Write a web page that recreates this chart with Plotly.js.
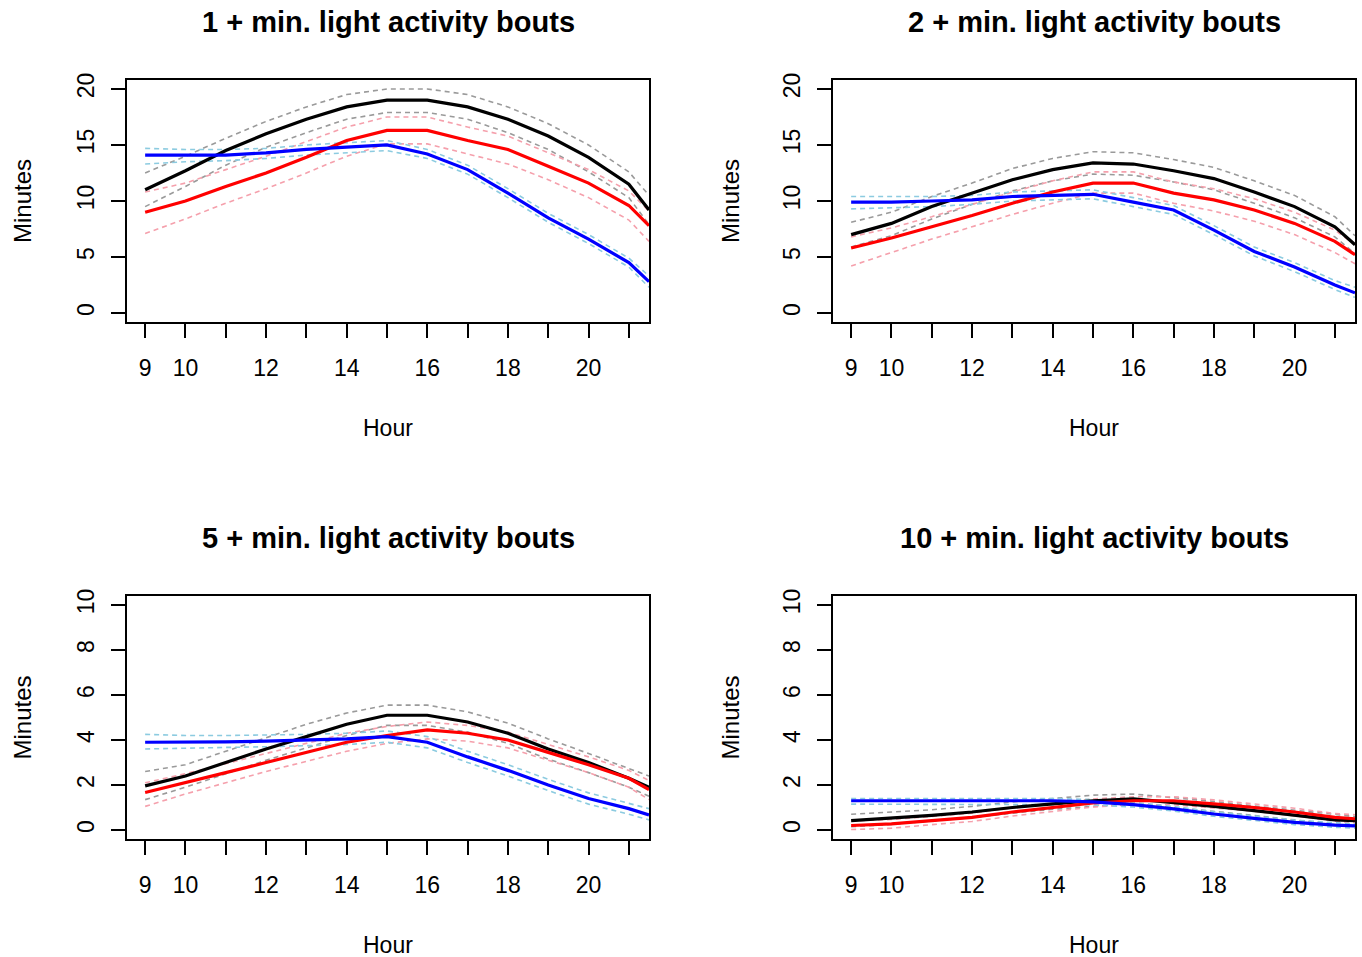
<!DOCTYPE html>
<html>
<head>
<meta charset="utf-8">
<script src="https://cdn.plot.ly/plotly-3.0.1.min.js"></script>
<style>html,body{margin:0;padding:0;background:#fff;}#chart{width:1362px;height:957px;}</style>
</head>
<body>
<div id="chart"></div>
<script>
// ---- data ----
const hours = [9,10,11,12,13,14,15,16,17,18,19,20,21,21.5];
const xTickVals = [9,10,11,12,13,14,15,16,17,18,19,20,21];
const xTickText = ["9","10","","12","","14","","16","","18","","20",""];
const titles = ["1 + min. light activity bouts","2 + min. light activity bouts","5 + min. light activity bouts","10 + min. light activity bouts"];
const yTicksTop = [0,5,10,15,20];
const yTicksBottom = [0,2,4,6,8,10];

// Panel 1: 1+ min
const blk1   = [11.0,12.7,14.5,16.0,17.3,18.4,19.0,19.0,18.4,17.3,15.8,13.9,11.5,9.2];
const blk1Up = [12.5,14.0,15.6,17.1,18.4,19.5,20.0,20.0,19.5,18.4,16.9,15.0,12.6,10.5];
const blk1Lo = [9.5,11.3,13.2,14.8,16.1,17.3,17.9,17.9,17.3,16.1,14.6,12.6,10.3,7.9];
const red1   = [9.0,10.0,11.3,12.5,13.9,15.4,16.3,16.3,15.4,14.6,13.1,11.6,9.6,7.8];
const red1Up = [10.8,11.6,12.8,14.0,15.3,16.6,17.5,17.5,16.6,15.8,14.3,12.8,10.9,9.1];
const red1Lo = [7.1,8.4,9.8,11.1,12.5,14.0,15.1,15.1,14.2,13.3,11.9,10.3,8.3,6.4];
const blu1   = [14.1,14.1,14.1,14.3,14.6,14.8,15.0,14.2,12.8,10.7,8.5,6.6,4.5,2.8];
const blu1Up = [14.7,14.6,14.6,14.7,15.0,15.2,15.4,14.6,13.2,11.1,8.9,7.0,4.9,3.3];
const blu1Lo = [13.3,13.5,13.6,13.8,14.1,14.3,14.5,13.8,12.4,10.3,8.1,6.2,4.1,2.3];

// Panel 2: 2+ min
const blk2   = [7.0,8.0,9.5,10.7,11.9,12.8,13.4,13.3,12.7,12.0,10.8,9.5,7.7,6.1];
const blk2Up = [8.1,9.0,10.4,11.6,12.9,13.8,14.4,14.3,13.7,13.0,11.8,10.5,8.6,6.9];
const blk2Lo = [5.9,6.9,8.4,9.7,10.9,11.8,12.4,12.3,11.7,11.0,9.8,8.5,6.8,5.3];
const red2   = [5.8,6.7,7.7,8.7,9.8,10.8,11.6,11.6,10.7,10.1,9.2,8.0,6.4,5.2];
const red2Up = [6.8,7.6,8.6,9.7,10.8,11.8,12.6,12.6,11.7,11.1,10.2,9.0,7.4,6.1];
const red2Lo = [4.2,5.4,6.6,7.7,8.8,9.8,10.7,10.7,9.8,9.1,8.2,7.0,5.4,4.4];
const blu2   = [9.9,9.9,10.0,10.1,10.4,10.5,10.6,9.9,9.2,7.4,5.5,4.1,2.5,1.8];
const blu2Up = [10.4,10.4,10.4,10.5,10.8,10.9,11.0,10.3,9.6,7.8,5.9,4.5,2.9,2.3];
const blu2Lo = [9.3,9.4,9.5,9.7,10.0,10.1,10.2,9.5,8.8,7.0,5.1,3.7,2.1,1.4];

// Panel 3: 5+ min
const blk3   = [1.96,2.4,3.0,3.6,4.15,4.7,5.1,5.1,4.8,4.3,3.6,3.0,2.3,1.9];
const blk3Up = [2.6,2.9,3.5,4.1,4.7,5.2,5.55,5.55,5.25,4.75,4.05,3.4,2.75,2.4];
const blk3Lo = [1.35,1.9,2.5,3.1,3.65,4.2,4.65,4.65,4.35,3.85,3.15,2.55,1.9,1.5];
const red3   = [1.67,2.1,2.55,3.0,3.45,3.9,4.2,4.45,4.3,4.0,3.45,2.9,2.3,1.8];
const red3Up = [2.1,2.5,2.95,3.4,3.85,4.3,4.6,4.8,4.65,4.35,3.8,3.25,2.65,2.2];
const red3Lo = [1.05,1.6,2.1,2.6,3.05,3.5,3.85,4.05,3.95,3.65,3.1,2.55,1.9,1.35];
const blu3   = [3.9,3.9,3.92,3.95,4.0,4.05,4.15,3.9,3.25,2.65,2.0,1.4,0.95,0.67];
const blu3Up = [4.25,4.2,4.2,4.22,4.25,4.3,4.4,4.15,3.5,2.9,2.25,1.65,1.2,0.95];
const blu3Lo = [3.6,3.65,3.67,3.7,3.75,3.8,3.9,3.65,3.0,2.4,1.75,1.15,0.7,0.45];

// Panel 4: 10+ min
const blk4   = [0.42,0.52,0.65,0.8,1.0,1.16,1.3,1.38,1.23,1.05,0.86,0.65,0.45,0.42];
const blk4Up = [0.7,0.8,0.9,1.05,1.25,1.4,1.55,1.6,1.45,1.27,1.07,0.87,0.67,0.6];
const blk4Lo = [0.15,0.25,0.4,0.55,0.75,0.92,1.05,1.15,1.0,0.83,0.65,0.45,0.25,0.22];
const red4   = [0.2,0.27,0.42,0.56,0.8,1.0,1.2,1.3,1.3,1.16,1.0,0.8,0.56,0.5];
const red4Up = [0.4,0.47,0.6,0.75,0.98,1.18,1.38,1.48,1.48,1.34,1.17,0.97,0.73,0.68];
const red4Lo = [0.02,0.08,0.24,0.38,0.62,0.82,1.02,1.12,1.12,0.98,0.83,0.63,0.39,0.32];
const blu4   = [1.3,1.3,1.3,1.3,1.3,1.3,1.25,1.13,0.94,0.71,0.52,0.34,0.22,0.18];
const blu4Up = [1.4,1.4,1.4,1.4,1.4,1.4,1.35,1.23,1.04,0.81,0.62,0.44,0.32,0.28];
const blu4Lo = [1.15,1.15,1.15,1.15,1.15,1.15,1.12,1.02,0.84,0.61,0.42,0.24,0.12,0.08];

// ---- build ----
const panels = [
  {blk:blk1,blkUp:blk1Up,blkLo:blk1Lo,red:red1,redUp:red1Up,redLo:red1Lo,blu:blu1,bluUp:blu1Up,bluLo:blu1Lo},
  {blk:blk2,blkUp:blk2Up,blkLo:blk2Lo,red:red2,redUp:red2Up,redLo:red2Lo,blu:blu2,bluUp:blu2Up,bluLo:blu2Lo},
  {blk:blk3,blkUp:blk3Up,blkLo:blk3Lo,red:red3,redUp:red3Up,redLo:red3Lo,blu:blu3,bluUp:blu3Up,bluLo:blu3Lo},
  {blk:blk4,blkUp:blk4Up,blkLo:blk4Lo,red:red4,redUp:red4Up,redLo:red4Lo,blu:blu4,bluUp:blu4Up,bluLo:blu4Lo}
];
const W = 1362, H = 957;
const xPix = [[127,649],[833,1355],[127,649],[833,1355]];
const yPix = [[80,322],[80,322],[596,839],[596,839]];
const yRanges = [[-0.8,20.8],[-0.8,20.8],[-0.4,10.4],[-0.4,10.4]];
const yTicks = [yTicksTop,yTicksTop,yTicksBottom,yTicksBottom];
const FONT = "Liberation Sans, Arial, sans-serif";

const traces = [];
const layout = {
  width: W, height: H,
  margin: {l:0,r:0,t:0,b:0},
  paper_bgcolor: "#ffffff", plot_bgcolor: "#ffffff",
  showlegend: false,
  font: {family: FONT, color: "#000"},
  annotations: []
};

function dashTrace(x, y, color, xa, ya) {
  return {x:x, y:y, xaxis:xa, yaxis:ya, type:"scatter", mode:"lines",
    line:{color:color, width:1.6, dash:"5px,4px"}, hoverinfo:"skip"};
}
function mainTrace(x, y, color, xa, ya) {
  return {x:x, y:y, xaxis:xa, yaxis:ya, type:"scatter", mode:"lines",
    line:{color:color, width:3.2}, hoverinfo:"skip"};
}

panels.forEach((p, i) => {
  const n = i + 1;
  const xa = "x" + (n === 1 ? "" : n), ya = "y" + (n === 1 ? "" : n);
  traces.push(dashTrace(hours, p.blkUp, "#9a9a9a", xa, ya));
  traces.push(dashTrace(hours, p.blkLo, "#9a9a9a", xa, ya));
  traces.push(dashTrace(hours, p.redUp, "#f5a0ac", xa, ya));
  traces.push(dashTrace(hours, p.redLo, "#f5a0ac", xa, ya));
  traces.push(dashTrace(hours, p.bluUp, "#8ccbe0", xa, ya));
  traces.push(dashTrace(hours, p.bluLo, "#8ccbe0", xa, ya));
  traces.push(mainTrace(hours, p.blk, "#000000", xa, ya));
  traces.push(mainTrace(hours, p.red, "#ff0000", xa, ya));
  traces.push(mainTrace(hours, p.blu, "#0000ff", xa, ya));

  const xd = [xPix[i][0]/W, xPix[i][1]/W];
  const yd = [1 - yPix[i][1]/H, 1 - yPix[i][0]/H];
  const xKey = "xaxis" + (n === 1 ? "" : n), yKey = "yaxis" + (n === 1 ? "" : n);
  layout[xKey] = {
    domain: xd, anchor: ya, range: [8.55, 21.5],
    tickmode: "array", tickvals: xTickVals, ticktext: xTickText,
    ticks: "outside", ticklen: 14, tickwidth: 2, tickcolor: "#000",
    showline: true, linecolor: "#000", linewidth: 2, mirror: true,
    showgrid: false, zeroline: false, ticklabelstandoff: 10,
    tickfont: {family: FONT, size: 23, color: "#000"}
  };
  layout[yKey] = {
    domain: yd, anchor: xa, range: yRanges[i],
    tickmode: "array", tickvals: yTicks[i], ticktext: yTicks[i].map(String),
    ticks: "outside", ticklen: 14, tickwidth: 2, tickcolor: "#000",
    showline: true, linecolor: "#000", linewidth: 2, mirror: true,
    showgrid: false, zeroline: false, tickangle: -90, ticklabelstandoff: 8,
    tickfont: {family: FONT, size: 23, color: "#000"}
  };
  const cx = (xPix[i][0] + xPix[i][1]) / 2 / W;
  const titleY = i < 2 ? 22 : 538;
  const hourY = i < 2 ? 428 : 945;
  const minX = i % 2 === 0 ? 22 : 730;
  const minY = (yPix[i][0] + yPix[i][1]) / 2;
  layout.annotations.push({xref:"paper", yref:"paper", x: cx, y: 1 - titleY/H, xanchor:"center", yanchor:"middle",
    text: "<b>" + titles[i] + "</b>", showarrow:false, font:{family:FONT, size:29, color:"#000"}});
  layout.annotations.push({xref:"paper", yref:"paper", x: cx, y: 1 - hourY/H, xanchor:"center", yanchor:"middle",
    text: "Hour", showarrow:false, font:{family:FONT, size:23, color:"#000"}});
  layout.annotations.push({xref:"paper", yref:"paper", x: minX/W, y: 1 - minY/H, xanchor:"center", yanchor:"middle",
    text: "Minutes", textangle: -90, showarrow:false, font:{family:FONT, size:24, color:"#000"}});
});

Plotly.newPlot("chart", traces, layout, {staticPlot: true, displayModeBar: false});
</script>
</body>
</html>
